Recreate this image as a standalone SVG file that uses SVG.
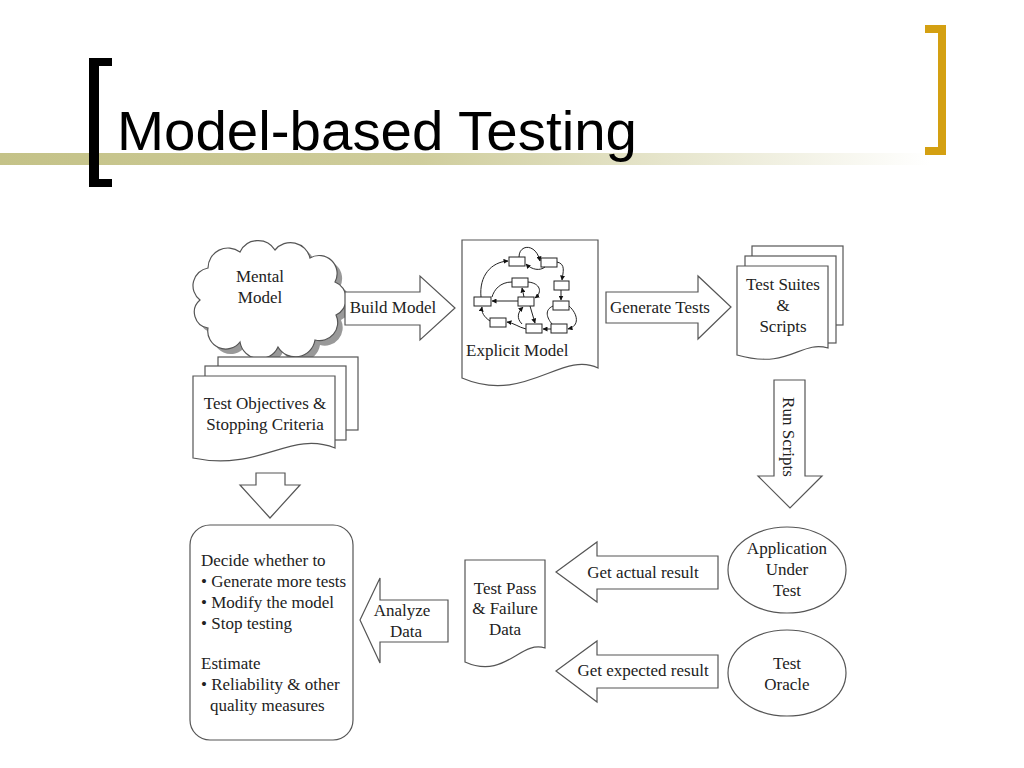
<svg xmlns="http://www.w3.org/2000/svg" width="1024" height="768" viewBox="0 0 1024 768">
<defs>
<linearGradient id="bar" x1="0" y1="0" x2="1" y2="0">
<stop offset="0" stop-color="#C4C288"/>
<stop offset="0.45" stop-color="#CFCD9C"/>
<stop offset="1" stop-color="#FFFFFF"/>
</linearGradient>
<marker id="ah" viewBox="0 0 10 10" refX="9" refY="5" markerWidth="5" markerHeight="5" orient="auto" markerUnits="userSpaceOnUse">
<path d="M0,0 L10,5 L0,10 Z" fill="#111"/>
</marker>
</defs>
<style>
.sh{fill:#fff;stroke:#555;stroke-width:1.2}
.t{font-family:"Liberation Serif","Times New Roman",serif;font-size:17px;fill:#222;text-anchor:middle}
.tl{font-family:"Liberation Serif","Times New Roman",serif;font-size:17px;fill:#222}
.mr{fill:#fff;stroke:#222;stroke-width:1}
.me{fill:none;stroke:#222;stroke-width:1;marker-end:url(#ah)}
.mn{fill:none;stroke:#222;stroke-width:1}
</style>
<rect width="1024" height="768" fill="#fff"/>
<!-- title decoration -->
<rect x="0" y="153" width="930" height="12" fill="url(#bar)"/>
<path d="M112,58 H89 V187 H112 V179 H99 V66 H112 Z" fill="#000"/>
<path d="M925,25 H946 V155 H925 V147 H938 V33 H925 Z" fill="#D4A012"/>
<text x="117" y="150" font-family="'Liberation Sans',Arial,sans-serif" font-size="55" fill="#000" textLength="520" lengthAdjust="spacingAndGlyphs">Model-based Testing</text>

<g id="mental-model">
<path transform="translate(5,5)" fill="#999" d="M200,300 A18,18 0 0,1 208,268 A20,20 0 0,1 240,252 A20,20 0 0,1 275,250 A20,20 0 0,1 310,258 A18,18 0 0,1 335,282 A18,18 0 0,1 336,315 A18,18 0 0,1 315,340 A20,20 0 0,1 278,347 A20,20 0 0,1 240,342 A18,18 0 0,1 208,328 A16,16 0 0,1 200,300 Z"/>
<path class="sh" d="M200,300 A18,18 0 0,1 208,268 A20,20 0 0,1 240,252 A20,20 0 0,1 275,250 A20,20 0 0,1 310,258 A18,18 0 0,1 335,282 A18,18 0 0,1 336,315 A18,18 0 0,1 315,340 A20,20 0 0,1 278,347 A20,20 0 0,1 240,342 A18,18 0 0,1 208,328 A16,16 0 0,1 200,300 Z"/>
<text class="t" x="260" y="282">Mental</text>
<text class="t" x="260" y="303">Model</text>
</g>

<g id="explicit-model">
<path class="sh" d="M462,240 H598 V368 C562,350 525,405 462,378 Z"/>
<g>
<rect class="mr" x="509" y="257" width="16" height="9"/>
<rect class="mr" x="541" y="258" width="16" height="9"/>
<rect class="mr" x="512" y="278" width="16" height="9"/>
<rect class="mr" x="554" y="281" width="15" height="9"/>
<rect class="mr" x="474" y="297" width="17" height="9"/>
<rect class="mr" x="518" y="297" width="16" height="9"/>
<rect class="mr" x="553" y="301" width="16" height="9"/>
<rect class="mr" x="490" y="318" width="16" height="9"/>
<rect class="mr" x="526" y="324" width="16" height="9"/>
<rect class="mr" x="551" y="324" width="16" height="9"/>
<path class="me" d="M481,297 C479,276 491,262 508,261"/>
<path class="me" d="M519,257 C519,244 536,243 540,261"/>
<path class="me" d="M545,267 C540,271 532,270 526,264"/>
<path class="me" d="M557,262 C566,264 563,272 562,280"/>
<path class="me" d="M561,290 L561,300"/>
<path class="me" d="M569,306 C578,314 580,326 568,329"/>
<path class="me" d="M551,329 L543,329"/>
<path class="me" d="M526,329 C518,327 514,323 507,322"/>
<path class="me" d="M490,321 C484,317 481,312 482,307"/>
<path class="me" d="M518,301 L492,301"/>
<path class="me" d="M528,282 C540,283 543,292 535,298"/>
<path class="me" d="M524,297 L522,288"/>
<path class="mn" d="M512,282 C500,282 494,290 492,297"/>
<path class="me" d="M530,306 L535,323"/>
<path class="me" d="M522,324 C516,318 518,312 523,307"/>
<path class="mn" d="M553,306 C544,310 547,318 552,324"/>
</g>
<text class="tl" x="466" y="356">Explicit Model</text>
</g>

<g id="test-suites">
<rect class="sh" x="752" y="246" width="91" height="79"/>
<rect class="sh" x="745" y="256" width="91" height="87"/>
<path class="sh" d="M737,266 H828 V348 C800,340 790,370 737,355 Z"/>
<text class="t" x="783" y="290">Test Suites</text>
<text class="t" x="783" y="311">&amp;</text>
<text class="t" x="783" y="332">Scripts</text>
</g>

<g id="test-objectives">
<rect class="sh" x="218" y="357" width="140" height="73"/>
<rect class="sh" x="205" y="366" width="141" height="74"/>
<path class="sh" d="M193,376 H335 V448 C290,430 260,472 193,458 Z"/>
<text class="t" x="265" y="409">Test Objectives &amp;</text>
<text class="t" x="265" y="430">Stopping Criteria</text>
</g>

<g id="decision">
<rect class="sh" x="190" y="525" width="163" height="215" rx="20" ry="20"/>
<text class="tl" x="201" y="566">Decide whether to</text>
<text class="tl" x="201" y="587">• Generate more tests</text>
<text class="tl" x="201" y="608">• Modify the model</text>
<text class="tl" x="201" y="629">• Stop testing</text>
<text class="tl" x="201" y="669">Estimate</text>
<text class="tl" x="201" y="690">• Reliability &amp; other</text>
<text class="tl" x="210" y="711">quality measures</text>
</g>

<g id="test-data">
<path class="sh" d="M465,560 H545 V648 C520,640 505,680 465,662 Z"/>
<text class="t" x="505" y="594">Test Pass</text>
<text class="t" x="505" y="614">&amp; Failure</text>
<text class="t" x="505" y="635">Data</text>
</g>

<g id="aut">
<ellipse class="sh" cx="787" cy="570" rx="59" ry="43"/>
<text class="t" x="787" y="554">Application</text>
<text class="t" x="787" y="575">Under</text>
<text class="t" x="787" y="596">Test</text>
</g>

<g id="oracle">
<ellipse class="sh" cx="787" cy="673" rx="59" ry="43"/>
<text class="t" x="787" y="669">Test</text>
<text class="t" x="787" y="690">Oracle</text>
</g>

<g id="connectors">
<g id="build-model">
<path class="sh" d="M345,292 H420 V276 L455,308 L420,340 V325 H345 Z"/>
<text class="t" x="393" y="313">Build Model</text>
</g>
<g id="generate-tests">
<path class="sh" d="M606,292 H698 V276 L731,307 L698,339 V323 H606 Z"/>
<text class="t" x="660" y="313">Generate Tests</text>
</g>
<g id="run-scripts">
<path class="sh" d="M774,380 H805 V476 H822 L790,508 L758,476 H774 Z"/>
<text class="t" transform="translate(788,437) rotate(90)" x="0" y="5">Run Scripts</text>
</g>
<g id="objectives-arrow">
<path class="sh" d="M256,473 H285 V485 H300 L270,518 L240,485 H256 Z"/>
</g>
<g id="actual-result">
<path class="sh" d="M718,556 H597 V542 L556,572 L597,602 V589 H718 Z"/>
<text class="t" x="643" y="578">Get actual result</text>
</g>
<g id="expected-result">
<path class="sh" d="M718,655 H597 V641 L556,671 L597,702 V688 H718 Z"/>
<text class="t" x="643" y="676">Get expected result</text>
</g>
<g id="analyze-data">
<path class="sh" d="M448,600 H380 V578 L360,620 L380,663 V642 H448 Z"/>
<text class="t" x="402" y="616">Analyze</text>
<text class="t" x="406" y="637">Data</text>
</g>
</g>
</svg>
